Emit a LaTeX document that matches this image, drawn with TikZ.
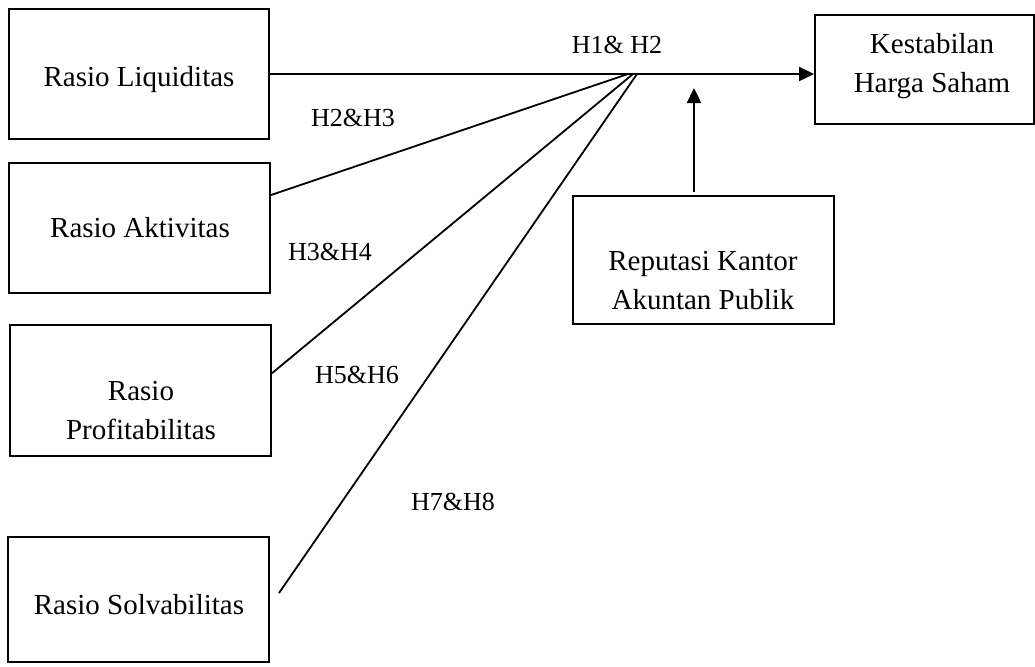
\documentclass[tikz,border=0pt]{standalone}
\usepackage{fontspec}
\setmainfont{Liberation Serif}
\usetikzlibrary{arrows.meta,calc}

\begin{document}
\begin{tikzpicture}[x=0.5pt,y=-0.5pt,
	box/.style={draw,line width=1pt,inner sep=0pt},
	txt/.style={font=\fontsize{14.5}{19.5}\selectfont,align=center,inner sep=0pt},
	hyp/.style={font=\fontsize{13}{15}\selectfont,inner sep=0pt},
	link/.style={line width=0.9pt},
	arr/.style={line width=1.2pt,-{Triangle[length=7.5pt,width=7pt]}}]
		\useasboundingbox (0,0) rectangle (1035,666);
		
		% variabel
		\node[box,minimum width=130pt,minimum height=65pt] (liq) at (139,74) {};
		\node[box,minimum width=130.5pt,minimum height=65pt] (akt) at (139.5,228) {};
		\node[box,minimum width=130.5pt,minimum height=65.5pt] (prof) at (140.5,390.5) {};
		\node[box,minimum width=130.5pt,minimum height=62.5pt] (solv) at (138.5,599.5) {};
		\node[box,minimum width=109.5pt,minimum height=54.5pt] (kes) at (924.5,69.5) {};
		\node[box,minimum width=130.5pt,minimum height=64pt] (rep) at (703.5,260) {};
		
		\node[txt] (liq-t) at (139,80) {Rasio Liquiditas};
		\node[txt] (akt-t) at (140,228) {Rasio Aktivitas};
		\node[txt] (prof-t) at (141,411) {Rasio\\Profitabilitas};
		\node[txt] (solv-t) at (139,605) {Rasio Solvabilitas};
		\node[txt] (kes-t) at (932,66) {Kestabilan\\Harga Saham};
		\node[txt] (rep-t) at (703,281) {Reputasi Kantor\\Akuntan Publik};
		
		% hipotesis
		\node[hyp] (h12) at (617,45) {H1\& H2};
		\node[hyp] (h23) at (353,118) {H2\&H3};
		\node[hyp] (h34) at (330,252) {H3\&H4};
		\node[hyp] (h56) at (357,375) {H5\&H6};
		\node[hyp] (h78) at (453,502) {H7\&H8};
		
		\coordinate (hubA) at (628,74);
		\coordinate (hubB) at (633,74);
		\coordinate (hubC) at (637,74);
		\coordinate (solv-tail) at (279,593);
		
		\draw[arr] (liq.east) -- (liq.east -| kes.west);
		\draw[link] ($(akt.north east)!0.25!(akt.south east)$) -- (hubA);
		\draw[link] ($(prof.north east)!0.37!(prof.south east)$) -- (hubB);
		\draw[link] (solv-tail) -- (hubC);
		\draw[arr] ($(rep.north)+(-9.5,-3)$) -- ++(0,-104);
		
	\end{tikzpicture}
\end{document}
